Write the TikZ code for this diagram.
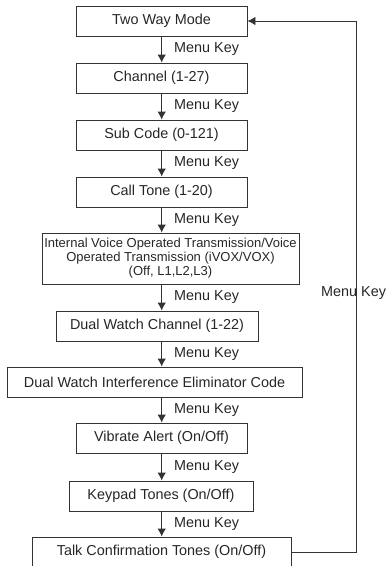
\documentclass[tikz,border=0pt]{standalone}
\usepackage{fontspec}
\setmainfont{Liberation Sans}
\usetikzlibrary{arrows.meta}

\begin{document}
\begin{tikzpicture}[x=1pt,y=-1pt,
        box/.style={draw=black!80, line width=0.9pt, minimum height=30pt, inner sep=0pt,
            text=black!85, font=\fontsize{14.4}{16}\selectfont},
        flow/.style={draw=black!80, line width=0.9pt, -{Latex[length=8pt,width=8.5pt]}},
        keylbl/.style={right, inner sep=0pt, xshift=12pt, text=black!85,
            font=\fontsize{14.4}{16}\selectfont}]
        \useasboundingbox (0,0) rectangle (389,566);
        \node[box, minimum width=171pt] (twoway) at (161.5,21) {Two Way Mode};
        \node[box, minimum width=171pt] (channel) at (161.5,78) {Channel (1-27)};
        \node[box, minimum width=171pt] (subcode) at (161.5,135) {Sub Code (0-121)};
        \node[box, minimum width=171pt] (calltone) at (161.5,192) {Call Tone (1-20)};
        \node[box, minimum width=257pt, minimum height=51pt, align=center,
            font=\fontsize{13}{14}\selectfont] (ivox) at (170.5,258.5)
            {Internal Voice Operated Transmission/Voice\\Operated Transmission (iVOX/VOX)\\(Off, L1,L2,L3)};
        \node[box, minimum width=202pt] (dwchan) at (157,326) {Dual Watch Channel (1-22)};
        \node[box, minimum width=295pt] (dwiec) at (154.5,382) {Dual Watch Interference Eliminator Code};
        \node[box, minimum width=171pt] (vibrate) at (161.5,438) {Vibrate Alert (On/Off)};
        \node[box, minimum width=184pt] (keypad) at (161,496) {Keypad Tones (On/Off)};
        \node[box, minimum width=259pt] (talk) at (161.5,552) {Talk Confirmation Tones (On/Off)};
        \coordinate (mid) at (161.7,0);
        \coordinate (back) at (356,0);
        \foreach \a/\b in {twoway/channel, channel/subcode, subcode/calltone, calltone/ivox,
            ivox/dwchan, dwchan/dwiec, dwiec/vibrate, vibrate/keypad, keypad/talk}
        \draw[flow] (\a.south -| mid) -- node[keylbl] (key\a) {Menu Key} (\b.north -| mid);
        \draw[flow] (talk.east) -- (talk.east -| back) -- (twoway.east -| back) -- (twoway.east);
        \node[keylbl] (keyback) at (309,293) {Menu Key};
    \end{tikzpicture}
\end{document}
